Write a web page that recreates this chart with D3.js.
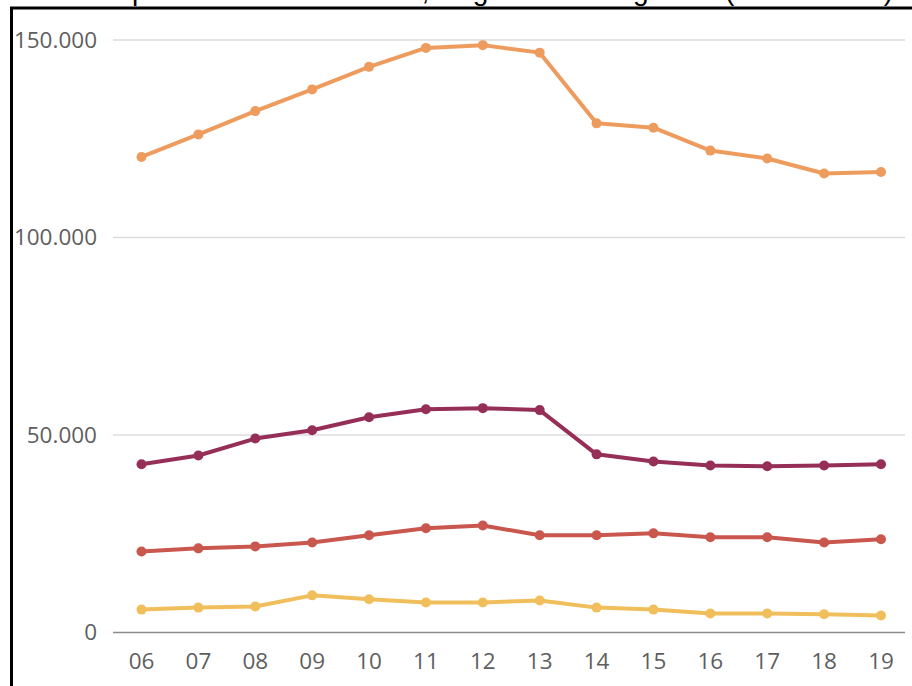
<!DOCTYPE html>
<html>
<head>
<meta charset="utf-8">
<script src="https://cdn.jsdelivr.net/npm/d3@7"></script>
<style>
  html, body { margin: 0; padding: 0; background: #fff; overflow: hidden; }
  svg { display: block; }
</style>
</head>
<body>
<svg id="chart" width="912" height="686"></svg>
<script>
// ---- data ----
const titleText = "Unfallopfer nach Altersklassen, Region Hamburg Mitte (2006 - 2019)";
const years = ["06","07","08","09","10","11","12","13","14","15","16","17","18","19"];
const seriesOrange = [120400,126100,132000,137500,143200,148000,148700,146800,128900,127800,122000,120000,116200,116600];
const seriesPurple = [42600,44800,49100,51200,54500,56500,56800,56300,45100,43300,42300,42100,42300,42600];
const seriesRed    = [20500,21300,21800,22800,24600,26400,27100,24600,24600,25100,24100,24100,22800,23600];
const seriesYellow = [5800,6300,6600,9400,8400,7600,7600,8100,6300,5800,4800,4800,4600,4300];
const yTicks = [0,50000,100000,150000];
const seriesColors = ["#ee9b5e","#962f58","#c9574d","#f0bf5b"];

const series = [seriesOrange, seriesPurple, seriesRed, seriesYellow];

const svg = d3.select("#chart");
const fmt = d3.formatLocale({decimal: ",", thousands: ".", grouping: [3], currency: ["", "€"]}).format(",d");

const x = d3.scalePoint().domain(years).range([141.5, 881]);
const y = d3.scaleLinear().domain([0, 150000]).range([632.5, 40]);

// gridlines
svg.append("g").selectAll("line").data(yTicks).join("line")
  .attr("x1", 113).attr("x2", 905)
  .attr("y1", d => y(d)).attr("y2", d => y(d))
  .attr("stroke", d => d === 0 ? "#8c8c8c" : "#dcdcdc")
  .attr("stroke-width", 1.5);

// y labels
svg.append("g").selectAll("text").data(yTicks).join("text")
  .attr("x", 97).attr("y", d => y(d)).attr("dy", "0.35em")
  .attr("text-anchor", "end")
  .attr("font-family", "'Open Sans', sans-serif")
  .attr("font-size", 22.5)
  .attr("fill", "#5e5e5e")
  .text(d => fmt(d));

// x labels
svg.append("g").selectAll("text").data(years).join("text")
  .attr("x", d => x(d)).attr("y", 661).attr("dy", "0.35em")
  .attr("text-anchor", "middle")
  .attr("font-family", "'Open Sans', sans-serif")
  .attr("font-size", 22.5)
  .attr("fill", "#5e5e5e")
  .text(d => d);

// lines and points
const line = d3.line().x((d, i) => x(years[i])).y(d => y(d));
series.forEach((s, k) => {
  const g = svg.append("g");
  g.append("path").datum(s)
    .attr("d", line)
    .attr("fill", "none")
    .attr("stroke", seriesColors[k])
    .attr("stroke-width", 4)
    .attr("stroke-linejoin", "round");
  g.selectAll("circle").data(s).join("circle")
    .attr("cx", (d, i) => x(years[i]))
    .attr("cy", d => y(d))
    .attr("r", 5)
    .attr("fill", seriesColors[k]);
});

// title (lies mostly above the visible area, as in the reference)
svg.append("text")
  .attr("x", 893).attr("y", -0.5)
  .attr("text-anchor", "end")
  .attr("font-family", "Arial, 'Liberation Sans', sans-serif")
  .attr("font-size", 28)
  .attr("fill", "#000")
  .text(titleText);

// frame
svg.append("path")
  .attr("d", "M11.5,700 V8 H920")
  .attr("fill", "none")
  .attr("stroke", "#000")
  .attr("stroke-width", 3);
</script>
</body>
</html>
